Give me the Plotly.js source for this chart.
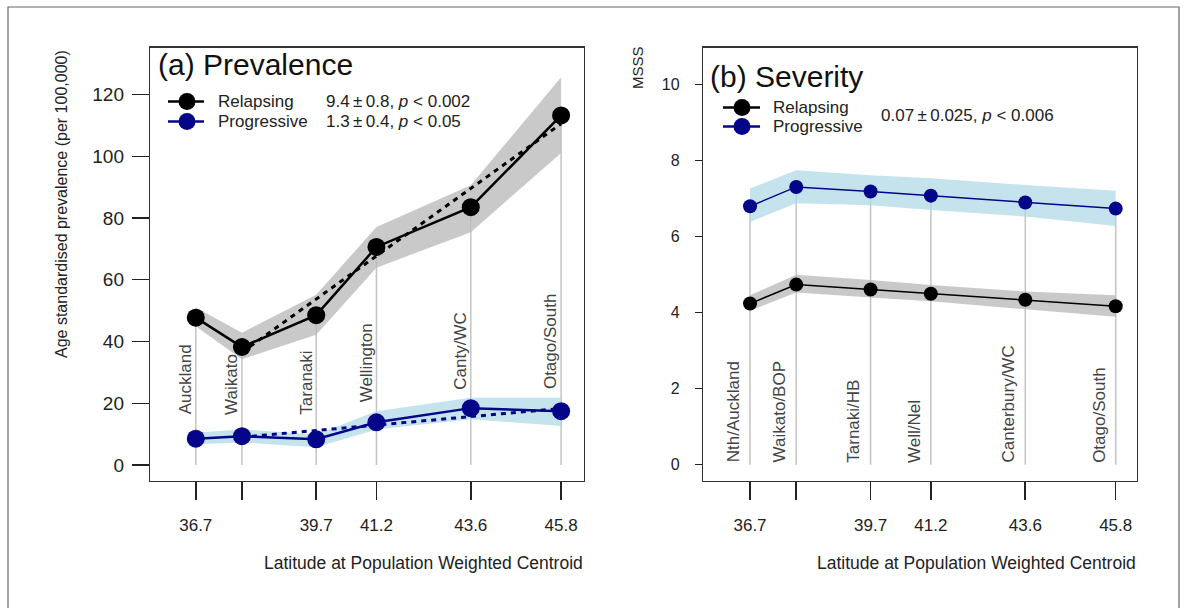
<!DOCTYPE html>
<html>
<head>
<meta charset="utf-8">
<script src="https://cdn.plot.ly/plotly-3.0.1.min.js"></script>
<style>html,body{margin:0;padding:0;background:#fff;}#chart{width:1186px;height:608px;}</style>
</head>
<body>
<div id="chart"></div>
<script>
// ---------- data ----------
const latitudes = [36.7, 37.85, 39.7, 41.2, 43.55, 45.8];
const latTickText = ['36.7', '', '39.7', '41.2', '43.6', '45.8'];
const regionsA = ['Auckland', 'Waikato', 'Taranaki', 'Wellington', 'Canty/WC', 'Otago/South'];
const regionsB = ['Nth/Auckland', 'Waikato/BOP', 'Tarnaki/HB', 'Well/Nel', 'Canterbury/WC', 'Otago/South'];

const prevRelapsing     = [47.7, 38.2, 48.5, 70.6, 83.5, 113.2];
const prevRelapsingLo   = [44.9, 34.2, 42.2, 63.9, 75.4, 101.0];
const prevRelapsingHi   = [51.0, 42.8, 55.1, 77.1, 90.6, 125.6];
const prevProgressive   = [8.5, 9.3, 8.3, 13.8, 18.4, 17.4];
const prevProgressiveLo = [6.7, 7.3, 5.7, 11.5, 14.8, 12.6];
const prevProgressiveHi = [10.5, 11.5, 9.9, 17.4, 21.8, 21.8];

const fitLat = [37.85, 45.8];
const prevRelapsingFit   = [36.5, 110.5];
const prevProgressiveFit = [9.0, 18.3];

const sevRelapsing     = [4.24, 4.74, 4.61, 4.50, 4.34, 4.17];
const sevRelapsingLo   = [4.05, 4.53, 4.40, 4.30, 4.10, 3.89];
const sevRelapsingHi   = [4.46, 5.00, 4.86, 4.73, 4.56, 4.46];
const sevProgressive   = [6.80, 7.31, 7.19, 7.08, 6.90, 6.74];
const sevProgressiveLo = [6.39, 6.88, 6.83, 6.70, 6.53, 6.28];
const sevProgressiveHi = [7.27, 7.75, 7.62, 7.54, 7.36, 7.21];

const prevTicks = [0, 20, 40, 60, 80, 100, 120];
const sevTicks = [0, 2, 4, 6, 8, 10];

const statsA = ['9.4\u2009±\u20090.8, <i>p</i> < 0.002', '1.3\u2009±\u20090.4, <i>p</i> < 0.05'];
const statsB = '0.07\u2009±\u20090.025, <i>p</i> < 0.006';

// ---------- layout positions (not data) ----------
const labelYA = [15.7, 15.7, 15.7, 19.6, 23.8, 23.8];
const labelYB = [0, 0, 0, 0, 0, 0];

const W = 1186, H = 608;
const px = v => v / W;
const py = v => 1 - v / H;

const FONT = 'Liberation Sans, Arial, Helvetica, sans-serif';
const BLACK = '#000000';
const NAVY = '#05058a';
const GREYBAND = 'rgba(188,188,188,0.8)';
const BLUEBAND = 'rgba(173,216,230,0.72)';
const STEM = '#c4c4c4';

function stems(xs, tops, xa, ya) {
  const x = [], y = [];
  xs.forEach((v, i) => { x.push(v, v, null); y.push(0, tops[i], null); });
  return {x, y, xaxis: xa, yaxis: ya, mode: 'lines', line: {color: STEM, width: 1.5},
          showlegend: false, hoverinfo: 'skip'};
}
function band(xs, lo, hi, color, xa, ya) {
  return {x: xs.concat(xs.slice().reverse()), y: hi.concat(lo.slice().reverse()),
          xaxis: xa, yaxis: ya, mode: 'lines', fill: 'toself', fillcolor: color,
          line: {width: 0, color: color}, showlegend: false, hoverinfo: 'skip'};
}
function series(name, xs, ys, color, lw, ms, xa, ya) {
  return {name, x: xs, y: ys, xaxis: xa, yaxis: ya, mode: 'lines+markers',
          line: {color, width: lw}, marker: {color, size: ms}, showlegend: false};
}
function fit(xs, ys, color, xa, ya) {
  return {x: xs, y: ys, xaxis: xa, yaxis: ya, mode: 'lines',
          line: {color, width: 3, dash: '5px,5px'}, showlegend: false, hoverinfo: 'skip'};
}

const traces = [
  stems(latitudes, prevRelapsing, 'x', 'y'),
  band(latitudes, prevRelapsingLo, prevRelapsingHi, GREYBAND, 'x', 'y'),
  band(latitudes, prevProgressiveLo, prevProgressiveHi, BLUEBAND, 'x', 'y'),
  fit(fitLat, prevRelapsingFit, BLACK, 'x', 'y'),
  fit(fitLat, prevProgressiveFit, NAVY, 'x', 'y'),
  series('Relapsing', latitudes, prevRelapsing, BLACK, 2.5, 18, 'x', 'y'),
  series('Progressive', latitudes, prevProgressive, NAVY, 2.5, 18, 'x', 'y'),

  stems(latitudes, sevProgressive, 'x2', 'y2'),
  band(latitudes, sevRelapsingLo, sevRelapsingHi, GREYBAND, 'x2', 'y2'),
  band(latitudes, sevProgressiveLo, sevProgressiveHi, BLUEBAND, 'x2', 'y2'),
  series('Relapsing', latitudes, sevRelapsing, BLACK, 1.5, 14, 'x2', 'y2'),
  series('Progressive', latitudes, sevProgressive, NAVY, 1.5, 14, 'x2', 'y2')
];

const xCommon = {
  showgrid: false, zeroline: false, showline: true, mirror: true, linecolor: '#333', linewidth: 1.2,
  ticks: 'outside', ticklen: 18, tickwidth: 1.6, tickcolor: '#222',
  tickmode: 'array', tickvals: latitudes, ticktext: latTickText,
  tickfont: {family: FONT, size: 17, color: '#222'}, ticklabelstandoff: 10
};

const annotations = [];
// rotated region labels
regionsA.forEach((t, i) => annotations.push({
  xref: 'x', yref: 'y', x: latitudes[i], y: labelYA[i], text: t, textangle: -90,
  showarrow: false, xanchor: 'center', yanchor: 'bottom', xshift: -10,
  font: {family: FONT, size: 17, color: '#444'}
}));
regionsB.forEach((t, i) => annotations.push({
  xref: 'x2', yref: 'y2', x: latitudes[i], y: labelYB[i], text: t, textangle: -90,
  showarrow: false, xanchor: 'center', yanchor: 'bottom', xshift: -17,
  font: {family: FONT, size: 17, color: '#444'}
}));
// titles
annotations.push({xref: 'paper', yref: 'paper', x: px(156), y: py(64), xanchor: 'left', yanchor: 'middle',
  text: '(a) Prevalence', showarrow: false, font: {family: FONT, size: 30, color: '#111'}});
annotations.push({xref: 'paper', yref: 'paper', x: px(708), y: py(76), xanchor: 'left', yanchor: 'middle',
  text: '(b) Severity', showarrow: false, font: {family: FONT, size: 30, color: '#111'}});
// axis titles
annotations.push({xref: 'paper', yref: 'paper', x: px(585), y: py(563), xanchor: 'right', yanchor: 'middle',
  text: 'Latitude at Population Weighted Centroid', showarrow: false, font: {family: FONT, size: 17.5, color: '#222'}});
annotations.push({xref: 'paper', yref: 'paper', x: px(1138), y: py(563), xanchor: 'right', yanchor: 'middle',
  text: 'Latitude at Population Weighted Centroid', showarrow: false, font: {family: FONT, size: 17.5, color: '#222'}});
annotations.push({xref: 'paper', yref: 'paper', x: px(61), y: py(204), xanchor: 'center', yanchor: 'middle',
  textangle: -90, text: 'Age standardised prevalence (per 100,000)', showarrow: false,
  font: {family: FONT, size: 16, color: '#222'}});
annotations.push({xref: 'paper', yref: 'paper', x: px(638), y: py(68), xanchor: 'center', yanchor: 'middle',
  textangle: -90, text: 'MSSS', showarrow: false, font: {family: FONT, size: 15, color: '#222'}});

// legends (drawn as shapes + text)
const shapes = [];
function legendItem(cx, cy, x0, x1, color, lw, d, label, tx) {
  shapes.push({type: 'line', xref: 'paper', yref: 'paper', x0: px(x0), x1: px(x1), y0: py(cy), y1: py(cy),
               line: {color, width: lw}});
  shapes.push({type: 'circle', xref: 'paper', yref: 'paper', xsizemode: 'pixel', ysizemode: 'pixel',
               xanchor: px(cx), yanchor: py(cy), x0: -d / 2, x1: d / 2, y0: -d / 2, y1: d / 2,
               fillcolor: color, line: {color, width: 0}});
  annotations.push({xref: 'paper', yref: 'paper', x: px(tx), y: py(cy), xanchor: 'left', yanchor: 'middle',
                    text: label, showarrow: false, font: {family: FONT, size: 17, color: '#222'}});
}
legendItem(187, 101.5, 168, 204, BLACK, 2.5, 17, 'Relapsing', 216);
legendItem(187, 121.5, 168, 204, NAVY, 2.5, 17, 'Progressive', 216);
annotations.push({xref: 'paper', yref: 'paper', x: px(324), y: py(101.5), xanchor: 'left', yanchor: 'middle',
  text: statsA[0], showarrow: false, font: {family: FONT, size: 17, color: '#222'}});
annotations.push({xref: 'paper', yref: 'paper', x: px(324), y: py(121.5), xanchor: 'left', yanchor: 'middle',
  text: statsA[1], showarrow: false, font: {family: FONT, size: 17, color: '#222'}});
legendItem(742, 107.5, 723, 760, BLACK, 2.5, 17, 'Relapsing', 771);
legendItem(742, 126.5, 723, 760, NAVY, 2.5, 17, 'Progressive', 771);
annotations.push({xref: 'paper', yref: 'paper', x: px(879), y: py(115), xanchor: 'left', yanchor: 'middle',
  text: statsB, showarrow: false, font: {family: FONT, size: 17, color: '#222'}});

// outer frame
shapes.push({type: 'rect', xref: 'paper', yref: 'paper', x0: px(8), x1: px(1179), y0: py(614), y1: py(7),
             line: {color: '#666', width: 1.2}, fillcolor: 'rgba(0,0,0,0)', layer: 'below'});

const layout = {
  width: W, height: H, margin: {l: 0, r: 0, t: 0, b: 0},
  paper_bgcolor: '#fff', plot_bgcolor: '#fff', showlegend: false,
  font: {family: FONT},
  xaxis: Object.assign({}, xCommon, {domain: [px(150), px(584)], range: [35.56, 46.37], anchor: 'y'}),
  yaxis: {domain: [py(481), py(47.5)], range: [-5.2, 135.2], anchor: 'x',
          showgrid: false, zeroline: false, showline: true, mirror: true, linecolor: '#333', linewidth: 1.2,
          ticks: 'outside', ticklen: 17, tickwidth: 1.2, tickcolor: '#222',
          tickmode: 'array', tickvals: prevTicks, ticktext: prevTicks.map(String),
          tickfont: {family: FONT, size: 19, color: '#222'}, ticklabelstandoff: 4},
  xaxis2: Object.assign({}, xCommon, {domain: [px(703), px(1137)], range: [35.53, 46.33], anchor: 'y2'}),
  yaxis2: {domain: [py(481), py(47.5)], range: [-0.43, 10.98], anchor: 'x2',
           showgrid: false, zeroline: false, showline: true, mirror: true, linecolor: '#333', linewidth: 1.2,
           ticks: 'outside', ticklen: 7, tickwidth: 1.2, tickcolor: '#222',
           tickmode: 'array', tickvals: sevTicks, ticktext: sevTicks.map(String),
           tickfont: {family: FONT, size: 16, color: '#222'}, ticklabelstandoff: 12},
  annotations, shapes
};

Plotly.newPlot('chart', traces, layout, {staticPlot: true, displayModeBar: false});
</script>
</body>
</html>
